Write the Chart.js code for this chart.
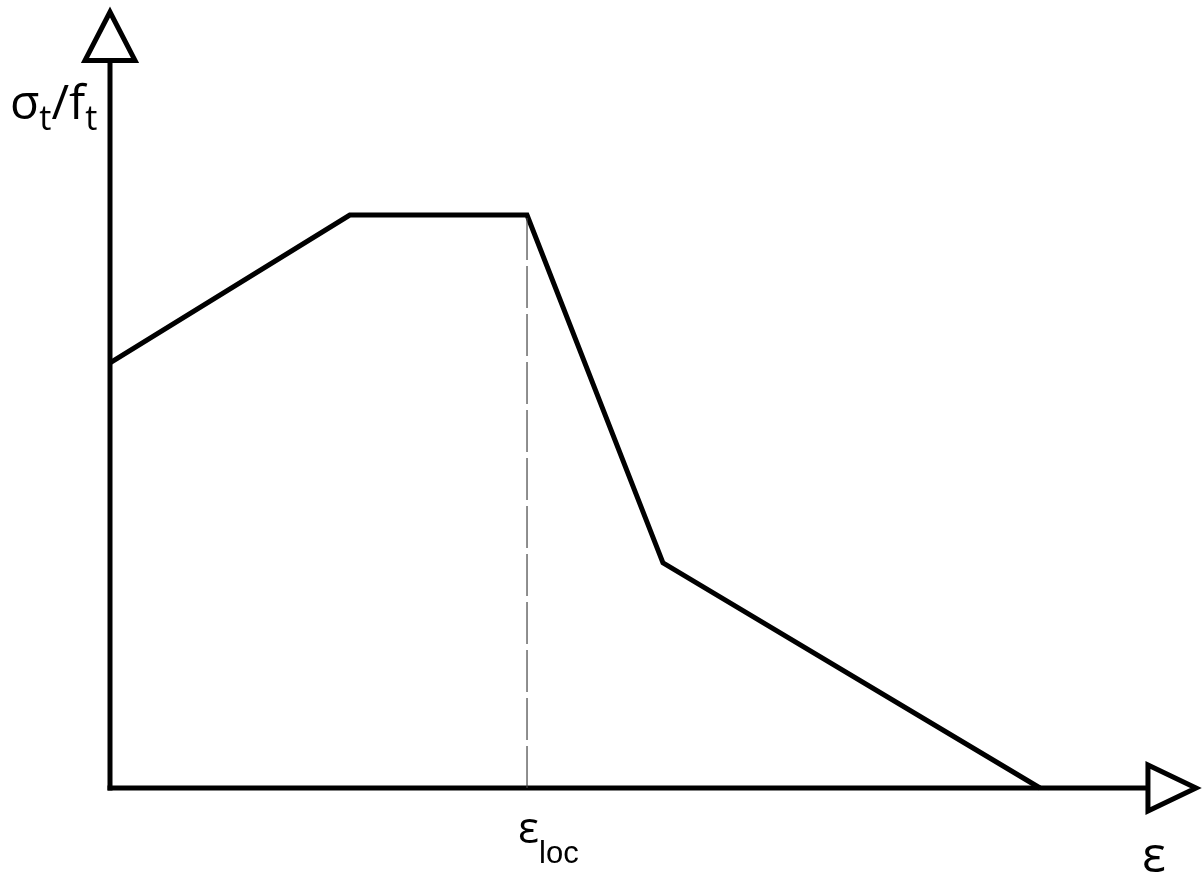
<!DOCTYPE html>
<html>
<head>
<meta charset="utf-8">
<script src="https://cdn.jsdelivr.net/npm/chart.js@4.4.1/dist/chart.umd.min.js"></script>
<style>
  html, body { margin: 0; padding: 0; background: #fff; }
  #wrap { width: 1203px; height: 879px; }
</style>
</head>
<body>
<div id="wrap"><canvas id="chart"></canvas></div>
<script>
// Données de la courbe (déformation normalisée par eps_loc, contrainte sigma_t/f_t)
const strainValues = [0, 0.575, 1.0, 1.326, 2.23];
const stressValues = [0.742, 1.0, 1.0, 0.393, 0];
const epsLoc = [1.0];
const peakStress = [1.0];

// Limites des axes (les flèches s'arrêtent là)
const xAxisMax = 2.609;
const yAxisMax = 1.358;
const xArrowBase = 2.489;
const yArrowBase = 1.27;

const curve = strainValues.map((x, i) => ({ x: x, y: stressValues[i] }));
const dashed = [{ x: epsLoc[0], y: 0 }, { x: epsLoc[0], y: peakStress[0] }];

// Dessin des axes, flèches et libellés
const axesPlugin = {
    id: 'axesPlugin',
    beforeDatasetsDraw(chart) {
        const ctx = chart.ctx;
        const xs = chart.scales.x;
        const ys = chart.scales.y;
        const x0 = xs.getPixelForValue(0);
        const y0 = ys.getPixelForValue(0);
        const yBase = ys.getPixelForValue(yArrowBase);
        const yTip = ys.getPixelForValue(yAxisMax) + 2;
        const xBase = xs.getPixelForValue(xArrowBase);
        const xTip = xs.getPixelForValue(xAxisMax) - 2;

        ctx.save();
        ctx.strokeStyle = '#000';
        ctx.lineWidth = 5;
        ctx.lineJoin = 'miter';
        ctx.lineCap = 'butt';

        // axe vertical
        ctx.beginPath();
        ctx.moveTo(x0, y0 + 2.5);
        ctx.lineTo(x0, yBase);
        ctx.stroke();
        // axe horizontal
        ctx.beginPath();
        ctx.moveTo(x0 - 2.5, y0);
        ctx.lineTo(xBase, y0);
        ctx.stroke();

        // flèche du haut
        ctx.beginPath();
        ctx.moveTo(x0 - 25, yBase);
        ctx.lineTo(x0 + 25, yBase);
        ctx.lineTo(x0, yTip);
        ctx.closePath();
        ctx.stroke();
        // flèche de droite
        ctx.beginPath();
        ctx.moveTo(xBase, y0 - 23);
        ctx.lineTo(xBase, y0 + 23);
        ctx.lineTo(xTip, y0);
        ctx.closePath();
        ctx.stroke();
        ctx.restore();
    },
    afterDraw(chart) {
        const ctx = chart.ctx;
        const xs = chart.scales.x;
        const y0 = chart.scales.y.getPixelForValue(0);
        ctx.save();
        ctx.fillStyle = '#000';
        ctx.textAlign = 'left';
        ctx.textBaseline = 'alphabetic';

        // sigma_t / f_t
        const parts = [
            { t: 'σ', f: '48px "Open Sans"', dy: 0 },
            { t: 't', f: '34px "Open Sans"', dy: 11 },
            { t: '/f', f: '48px "Open Sans"', dy: 0 },
            { t: 't', f: '34px "Open Sans"', dy: 11 }
        ];
        let px = 10;
        parts.forEach(p => {
            ctx.font = p.f;
            ctx.fillText(p.t, px, 119 + p.dy);
            px += ctx.measureText(p.t).width;
        });

        // eps_loc
        const xl = xs.getPixelForValue(epsLoc[0]);
        ctx.font = '44px "Open Sans"';
        const wEps = ctx.measureText('ε').width;
        ctx.fillText('ε', xl - 9, y0 + 55);
        ctx.font = '31px "Liberation Sans"';
        ctx.fillText('loc', xl - 9 + wEps, y0 + 75);

        // eps
        ctx.font = '50px "Open Sans"';
        ctx.fillText('ε', 1142, y0 + 84);
        ctx.restore();
    }
};

new Chart(document.getElementById('chart'), {
    type: 'scatter',
    data: {
        datasets: [
            {
                data: dashed,
                showLine: true,
                borderColor: '#444',
                borderWidth: 1.2,
                borderDash: [42, 6],
                pointRadius: 0,
                clip: false
            },
            {
                data: curve,
                showLine: true,
                borderColor: '#000',
                borderWidth: 5,
                borderJoinStyle: 'miter',
                pointRadius: 0,
                clip: false
            }
        ]
    },
    options: {
        responsive: true,
        maintainAspectRatio: false,
        animation: false,
        layout: {
            padding: { left: 110, right: 5, top: 10, bottom: 91 }
        },
        plugins: {
            legend: { display: false },
            tooltip: { enabled: false }
        },
        scales: {
            x: { type: 'linear', min: 0, max: xAxisMax, display: false },
            y: { type: 'linear', min: 0, max: yAxisMax, display: false }
        }
    },
    plugins: [axesPlugin]
});
</script>
</body>
</html>
